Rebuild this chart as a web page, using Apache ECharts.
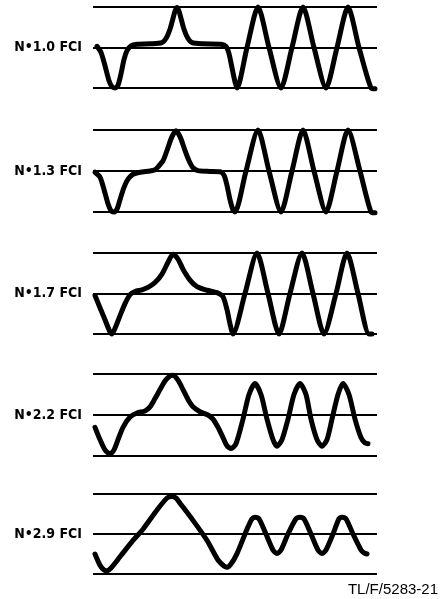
<!DOCTYPE html>
<html>
<head>
<meta charset="utf-8">
<script src="https://cdn.jsdelivr.net/npm/echarts@6/dist/echarts.min.js"></script>
<style>html,body{margin:0;padding:0;background:#fff}#c{width:440px;height:599px}</style>
</head>
<body>
<div id="c"></div>
<script>
// Panel labels
const labels = ['N•1.0 FCI', 'N•1.3 FCI', 'N•1.7 FCI', 'N•2.2 FCI', 'N•2.9 FCI'];
const yTicks = [-1, 0, 1];
const footnote = 'TL/F/5283-21';

// Waveforms: [time, normalized amplitude]
const wave1 = [[4,0.03],[8,-0.12],[12,-0.45],[16,-0.82],[19,-0.97],[22,-1],[25,-0.93],[28,-0.65],[31,-0.3],[34,-0.08],[38,0.04],[44,0.08],[57,0.09],[69,0.12],[73,0.22],[77,0.45],[80,0.72],[82,0.9],[84,0.99],[86,0.9],[88,0.72],[91,0.45],[95,0.22],[99,0.12],[110,0.09],[128,0.08],[133,0.03],[136,-0.15],[139,-0.5],[142,-0.85],[144,-1],[154,0],[165,1],[176,0],[188,-1],[199,0],[210,1],[221,0],[233,-1],[244,0],[255,1],[266,0],[278,-1],[282,-1.02]];
const wave2 = [[2,-0.03],[7,-0.15],[11,-0.45],[15,-0.8],[18,-0.97],[21,-1],[24,-0.93],[27,-0.7],[31,-0.4],[35,-0.2],[40,-0.08],[47,-0.03],[57,0],[62,0.03],[65,0.1],[70,0.25],[74,0.5],[78,0.78],[81,0.93],[83,0.98],[85,0.93],[88,0.78],[92,0.5],[96,0.25],[100,0.08],[105,0.01],[117,-0.01],[127,-0.02],[131,-0.1],[134,-0.35],[137,-0.7],[140,-0.95],[142,-1],[153,0],[165,1],[176,0],[188,-1],[199,0],[210,1],[221,0],[233,-1],[244,0],[255,1],[267,0],[278,-1],[282,-1.02]];
const wave3 = [[2,-0.05],[7,-0.35],[12,-0.65],[17,-0.95],[19,-1],[23,-0.8],[27,-0.55],[32,-0.25],[37,-0.03],[42,0.05],[49,0.09],[55,0.15],[62,0.27],[69,0.48],[75,0.77],[80,0.97],[85,0.85],[90,0.6],[97,0.33],[104,0.17],[114,0.08],[124,0.02],[130,-0.08],[134,-0.4],[137,-0.75],[140,-1],[152,0],[164,1],[175,0],[186,-1],[197,0],[209,1],[220,0],[231,-1],[243,0],[254,1],[265,0],[276,-1],[279,-1]];
const wave4 = [[2,-0.3],[7,-0.6],[12,-0.85],[17,-0.95],[21,-0.85],[25,-0.6],[30,-0.3],[37,-0.05],[44,0.05],[52,0.1],[57,0.2],[62,0.4],[67,0.62],[72,0.83],[77,0.95],[80,0.97],[85,0.85],[90,0.62],[95,0.38],[100,0.2],[107,0.08],[115,0],[120,-0.1],[125,-0.3],[130,-0.55],[134,-0.75],[138,-0.82],[143,-0.7],[150,-0.1],[156,0.5],[162,0.77],[168,0.5],[174,-0.1],[180,-0.6],[184,-0.76],[189,-0.6],[195,-0.1],[201,0.5],[207,0.77],[213,0.5],[218,-0.1],[224,-0.6],[229,-0.76],[234,-0.6],[239,-0.1],[245,0.5],[250,0.77],[256,0.5],[262,-0.1],[268,-0.55],[272,-0.68],[275,-0.7]];
const wave5 = [[2,-0.5],[7,-0.78],[11,-0.9],[14,-0.92],[18,-0.85],[27,-0.57],[40,-0.16],[50,0.12],[64,0.6],[74,0.9],[79,0.94],[83,0.9],[87,0.77],[100,0.34],[114,-0.16],[125,-0.65],[131,-0.8],[134,-0.83],[138,-0.75],[144,-0.49],[154,0.12],[159,0.38],[162,0.42],[166,0.38],[173,0],[180,-0.4],[184,-0.49],[188,-0.4],[195,0],[203,0.38],[207,0.42],[211,0.38],[218,0],[225,-0.4],[229,-0.49],[233,-0.4],[240,0],[246,0.38],[249,0.42],[253,0.38],[260,0],[268,-0.4],[271,-0.47],[274,-0.5]];
const waves = [wave1, wave2, wave3, wave4, wave5];

const tops = [7, 130, 253, 374, 494];
const heights = [81, 82, 81, 82, 80];

const chart = echarts.init(document.getElementById('c'), null, {renderer: 'canvas'});
const grid = [], xAxis = [], yAxis = [], series = [];
waves.forEach((w, i) => {
  grid.push({left: 93, width: 284, top: tops[i], height: heights[i]});
  xAxis.push({type: 'value', gridIndex: i, min: 0, max: 284, show: false});
  yAxis.push({
    type: 'value', gridIndex: i, min: yTicks[0], max: yTicks[2], interval: 1,
    name: labels[i], nameLocation: 'middle', nameRotate: 0, nameGap: 11,
    nameTextStyle: {fontFamily: '"DejaVu Sans Condensed", "Liberation Sans", sans-serif', fontWeight: 'bold', fontSize: 14, color: '#000', align: 'right', verticalAlign: 'middle', padding: [0, 0, 2, 0]},
    axisLine: {show: false}, axisTick: {show: false}, axisLabel: {show: false},
    splitLine: {show: true, lineStyle: {color: '#000', width: 2}}
  });
  series.push({
    type: 'line', xAxisIndex: i, yAxisIndex: i, data: w, smooth: 0.25,
    showSymbol: false, clip: false, animation: false,
    lineStyle: {color: '#000', width: 5, cap: 'round', join: 'round'}
  });
});

chart.setOption({
  animation: false,
  backgroundColor: '#fff',
  title: {text: footnote, right: 2, bottom: 2, padding: 0, textStyle: {fontFamily: '"Liberation Sans", Arial, sans-serif', fontWeight: 'normal', fontSize: 15, color: '#000'}},
  grid, xAxis, yAxis, series
});
</script>
</body>
</html>
